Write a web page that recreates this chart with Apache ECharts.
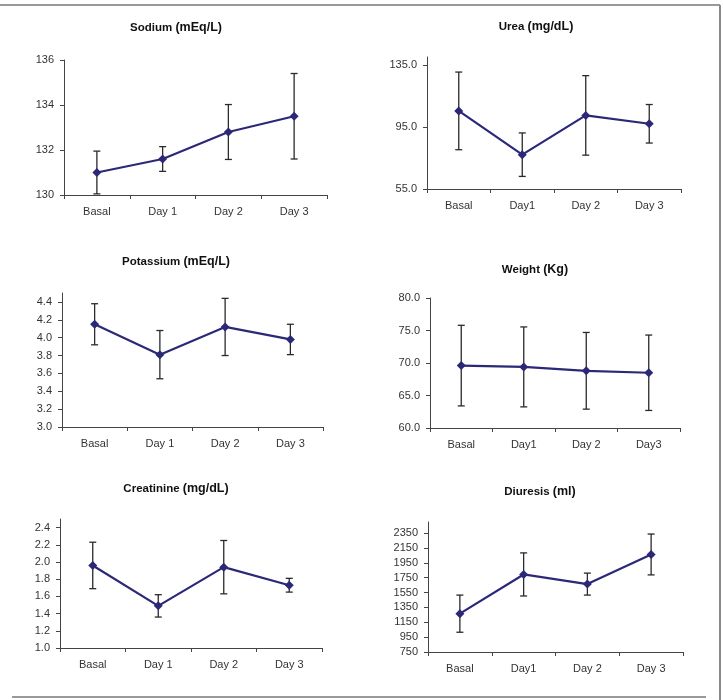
<!DOCTYPE html>
<html>
<head>
<meta charset="utf-8">
<script src="https://cdn.jsdelivr.net/npm/echarts@6/dist/echarts.min.js"></script>
<style>
  html, body { margin: 0; padding: 0; background: #fff; }
  #chart { width: 723px; height: 700px; }
</style>
</head>
<body>
<div id="chart"></div>
<script>
// values (mean and error half-width)
var sodiumCats = ['Basal', 'Day 1', 'Day 2', 'Day 3'];
var sodiumMean = [131.0, 131.6, 132.8, 133.5];
var sodiumErr = [0.95, 0.55, 1.22, 1.9];
var sodiumTicks = [130, 132, 134, 136];

var ureaCats = ['Basal', 'Day1', 'Day 2', 'Day 3'];
var ureaMean = [105.3, 77.1, 102.4, 97.0];
var ureaErr = [25, 14, 25.6, 12.4];
var ureaTicks = [55, 95, 135];

var potassiumCats = ['Basal', 'Day 1', 'Day 2', 'Day 3'];
var potassiumMean = [4.15, 3.81, 4.12, 3.98];
var potassiumErr = [0.23, 0.27, 0.32, 0.17];
var potassiumTicks = [3.0, 3.2, 3.4, 3.6, 3.8, 4.0, 4.2, 4.4];

var weightCats = ['Basal', 'Day1', 'Day 2', 'Day3'];
var weightMean = [69.6, 69.4, 68.8, 68.5];
var weightErr = [6.2, 6.15, 5.9, 5.8];
var weightTicks = [60, 65, 70, 75, 80];

var creatinineCats = ['Basal', 'Day 1', 'Day 2', 'Day 3'];
var creatinineMean = [1.96, 1.49, 1.94, 1.73];
var creatinineErr = [0.27, 0.13, 0.31, 0.08];
var creatinineTicks = [1.0, 1.2, 1.4, 1.6, 1.8, 2.0, 2.2, 2.4];

var diuresisCats = ['Basal', 'Day1', 'Day 2', 'Day 3'];
var diuresisMean = [1266, 1794, 1664, 2063];
var diuresisErr = [250, 290, 148, 275];
var diuresisTicks = [750, 950, 1150, 1350, 1550, 1750, 1950, 2150, 2350];

var panels = [
  {name: 'Sodium ', unit: '(mEq/L)', cats: sodiumCats, mean: sodiumMean, err: sodiumErr, ticks: sodiumTicks,
   min: 130, max: 136, dec: 0, grid: {left: 64, top: 60, width: 263, height: 135}, title: [176, 21]},
  {name: 'Urea ', unit: '(mg/dL)', cats: ureaCats, mean: ureaMean, err: ureaErr, ticks: ureaTicks,
   min: 55, max: 140, dec: 1, grid: {left: 427, top: 57, width: 254, height: 132}, title: [536, 20]},
  {name: 'Potassium ', unit: '(mEq/L)', cats: potassiumCats, mean: potassiumMean, err: potassiumErr, ticks: potassiumTicks,
   min: 3.0, max: 4.5, dec: 1, grid: {left: 62, top: 293, width: 261, height: 134}, title: [176, 255]},
  {name: 'Weight ', unit: '(Kg)', cats: weightCats, mean: weightMean, err: weightErr, ticks: weightTicks,
   min: 60, max: 80, dec: 1, grid: {left: 430, top: 298, width: 250, height: 130}, title: [535, 263]},
  {name: 'Creatinine ', unit: '(mg/dL)', cats: creatinineCats, mean: creatinineMean, err: creatinineErr, ticks: creatinineTicks,
   min: 1.0, max: 2.5, dec: 1, grid: {left: 60, top: 519, width: 262, height: 129}, title: [176, 482]},
  {name: 'Diuresis ', unit: '(ml)', cats: diuresisCats, mean: diuresisMean, err: diuresisErr, ticks: diuresisTicks,
   min: 750, max: 2500, dec: 0, grid: {left: 428, top: 522, width: 255, height: 130}, title: [540, 485]}
];

var lineColor = '#2c2878';
var axisColor = '#444';
var labelColor = '#333';

function errorBar(params, api) {
  var lo = api.coord([api.value(0), api.value(1)]);
  var hi = api.coord([api.value(0), api.value(2)]);
  var w = 3.5;
  var st = {stroke: '#2a2a2a', lineWidth: 1.3};
  return {
    type: 'group',
    children: [
      {type: 'line', shape: {x1: hi[0], y1: hi[1], x2: lo[0], y2: lo[1]}, style: st},
      {type: 'line', shape: {x1: hi[0] - w, y1: hi[1], x2: hi[0] + w, y2: hi[1]}, style: st},
      {type: 'line', shape: {x1: lo[0] - w, y1: lo[1], x2: lo[0] + w, y2: lo[1]}, style: st}
    ]
  };
}

var option = {
  backgroundColor: '#fff',
  animation: false,
  title: [], grid: [], xAxis: [], yAxis: [], series: [],
  graphic: [
    {type: 'line', shape: {x1: 0, y1: 5, x2: 720, y2: 5}, style: {stroke: '#999', lineWidth: 2}},
    {type: 'line', shape: {x1: 720, y1: 5, x2: 720, y2: 700}, style: {stroke: '#888', lineWidth: 2}},
    {type: 'line', shape: {x1: 12, y1: 697, x2: 706, y2: 697}, style: {stroke: '#999', lineWidth: 2}}
  ]
};

panels.forEach(function (p, i) {
  option.title.push({
    text: '{a|' + p.name + '}{b|' + p.unit + '}',
    left: p.title[0], top: p.title[1], textAlign: 'center', padding: 0,
    textStyle: {
      rich: {
        a: {fontFamily: 'Liberation Sans', fontWeight: 'bold', fontSize: 11.5, color: '#111'},
        b: {fontFamily: 'Liberation Sans', fontWeight: 'bold', fontSize: 12.5, color: '#111'}
      }
    }
  });
  option.grid.push({left: p.grid.left, top: p.grid.top, width: p.grid.width, height: p.grid.height, containLabel: false});
  option.xAxis.push({
    type: 'category', gridIndex: i, data: p.cats, boundaryGap: true,
    axisLine: {lineStyle: {color: axisColor, width: 1}},
    axisTick: {show: true, alignWithLabel: false, length: 4, lineStyle: {color: axisColor}},
    axisLabel: {color: labelColor, fontFamily: 'Liberation Sans', fontSize: 11, margin: 11},
    splitLine: {show: false}
  });
  option.yAxis.push({
    type: 'value', gridIndex: i, min: p.min, max: p.max,
    axisLine: {show: true, lineStyle: {color: axisColor, width: 1}},
    axisTick: {show: true, length: 4, customValues: p.ticks, lineStyle: {color: axisColor}},
    axisLabel: {
      color: labelColor, fontFamily: 'Liberation Sans', fontSize: 11, margin: 10,
      customValues: p.ticks,
      formatter: (function (d) { return function (v) { return v.toFixed(d); }; })(p.dec)
    },
    splitLine: {show: false}
  });
  var bars = p.mean.map(function (m, k) { return [k, m - p.err[k], m + p.err[k]]; });
  option.series.push({
    type: 'custom', xAxisIndex: i, yAxisIndex: i, renderItem: errorBar,
    encode: {x: 0, y: [1, 2]}, data: bars, z: 2
  });
  option.series.push({
    type: 'line', xAxisIndex: i, yAxisIndex: i, data: p.mean,
    symbol: 'diamond', symbolSize: 9,
    lineStyle: {color: lineColor, width: 2.2},
    itemStyle: {color: lineColor},
    z: 3
  });
});

var myChart = echarts.init(document.getElementById('chart'));
myChart.setOption(option);
</script>
</body>
</html>
